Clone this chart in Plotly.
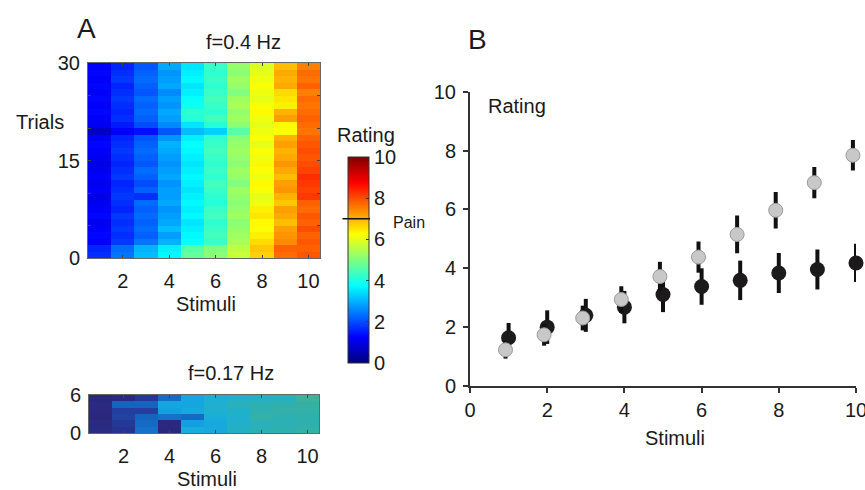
import plotly.graph_objects as go

W, H = 865, 490
FONT = "Liberation Sans, Arial, sans-serif"
TXT = "#1a1a1a"

STIMULI = list(range(1, 11))

# Single-trial ratings at f=0.4 Hz, listed from trial 30 (top) down to trial 1
RATINGS_04HZ = [
    [1.2, 1.6, 2.1, 2.9, 3.5, 4.3, 5.2, 5.9, 6.9, 7.5],
    [1.3, 1.7, 2.2, 2.7, 3.6, 4.2, 5.1, 6.0, 7.1, 7.7],
    [1.2, 1.8, 2.3, 2.8, 3.7, 4.3, 5.3, 6.1, 7.0, 7.6],
    [1.3, 1.6, 2.2, 2.9, 3.5, 4.2, 5.2, 6.2, 7.1, 7.8],
    [1.2, 1.7, 2.1, 2.6, 3.6, 4.3, 5.0, 6.1, 6.6, 7.5],
    [1.3, 1.8, 2.3, 2.8, 3.8, 4.4, 5.3, 6.0, 6.5, 7.7],
    [1.2, 1.7, 2.2, 2.7, 3.9, 4.3, 5.4, 6.2, 6.4, 7.6],
    [1.3, 1.6, 2.3, 2.9, 4.2, 4.2, 5.2, 6.3, 7.0, 7.7],
    [1.2, 1.7, 2.2, 2.8, 4.1, 4.4, 5.3, 6.1, 7.2, 7.8],
    [1.1, 1.5, 2.0, 2.6, 3.5, 4.1, 5.1, 6.0, 6.3, 7.7],
    [0.7, 1.2, 1.4, 2.1, 3.1, 3.3, 4.6, 6.1, 6.2, 7.6],
    [1.2, 1.6, 2.1, 2.7, 3.6, 4.2, 5.1, 6.2, 7.0, 7.8],
    [1.3, 1.7, 2.2, 3.0, 3.8, 4.3, 5.2, 6.0, 7.2, 7.9],
    [1.2, 1.8, 2.3, 2.9, 3.7, 4.4, 5.3, 6.2, 7.0, 8.0],
    [1.1, 1.7, 2.2, 2.8, 3.6, 4.3, 5.2, 6.1, 7.1, 7.9],
    [1.0, 1.6, 2.1, 2.7, 3.5, 4.2, 5.1, 6.3, 7.3, 8.0],
    [1.1, 1.7, 2.3, 2.8, 3.6, 4.3, 5.3, 6.2, 7.1, 8.1],
    [1.2, 1.8, 2.2, 2.9, 3.7, 4.2, 5.2, 6.1, 6.9, 8.3],
    [1.1, 1.6, 2.0, 2.7, 3.6, 4.4, 5.0, 6.3, 7.2, 8.2],
    [1.2, 1.7, 2.2, 2.8, 3.5, 4.3, 5.3, 6.2, 7.3, 8.1],
    [1.0, 1.8, 1.7, 2.8, 3.6, 4.2, 5.2, 6.0, 7.0, 8.2],
    [1.1, 1.7, 2.3, 2.9, 3.7, 4.1, 5.1, 6.1, 6.8, 7.8],
    [1.2, 1.6, 2.2, 2.7, 3.6, 4.3, 5.2, 6.4, 7.2, 7.7],
    [1.3, 1.8, 2.3, 2.8, 3.7, 4.4, 5.3, 6.5, 7.1, 7.9],
    [1.1, 1.7, 2.2, 2.9, 3.5, 4.2, 5.1, 6.3, 6.9, 7.8],
    [1.2, 1.8, 2.3, 3.1, 3.6, 4.3, 5.2, 6.2, 7.2, 8.0],
    [1.3, 1.7, 2.2, 2.8, 3.7, 4.4, 5.3, 6.4, 7.3, 7.8],
    [1.2, 1.8, 2.4, 3.0, 3.8, 4.3, 5.4, 6.6, 7.4, 7.9],
    [1.6, 2.3, 3.0, 3.6, 4.6, 5.0, 5.6, 6.8, 7.8, 7.8],
    [1.7, 2.4, 3.1, 3.7, 4.7, 5.1, 5.7, 6.7, 7.7, 7.9],
]

# Single-trial ratings at f=0.17 Hz, listed from trial 6 (top) down to trial 1
RATINGS_017HZ = [
    [1.0, 1.1, 1.8, 2.6, 3.4, 3.7, 3.8, 3.9, 4.0, 4.7],
    [1.2, 2.5, 2.5, 3.4, 3.4, 3.8, 4.1, 4.2, 4.3, 4.5],
    [1.1, 1.9, 1.9, 3.3, 3.5, 3.8, 3.9, 4.3, 4.4, 4.4],
    [1.0, 2.0, 2.5, 2.7, 2.6, 3.6, 3.8, 4.4, 4.2, 4.3],
    [1.2, 1.8, 2.6, 1.1, 3.3, 3.5, 3.9, 4.1, 4.2, 4.3],
    [1.3, 1.7, 2.7, 1.0, 3.6, 3.5, 4.0, 4.2, 4.3, 4.4],
]

# Mean rating and error per stimulus
MEAN_04HZ = [1.23, 1.74, 2.31, 2.94, 3.72, 4.38, 5.15, 5.97, 6.91, 7.84]
ERR_04HZ = [0.30, 0.37, 0.42, 0.45, 0.50, 0.53, 0.64, 0.62, 0.53, 0.52]
MEAN_017HZ = [1.64, 2.00, 2.40, 2.68, 3.11, 3.38, 3.59, 3.84, 3.96, 4.18]
ERR_017HZ = [0.50, 0.57, 0.56, 0.55, 0.60, 0.62, 0.67, 0.68, 0.68, 0.65]

PAIN_THRESHOLD = 7
RATING_MAX = 10

JET = [[0.0, "#000080"], [0.125, "#0000ff"], [0.375, "#00ffff"],
       [0.625, "#ffff00"], [0.875, "#ff0000"], [1.0, "#800000"]]
PARULA_LIKE = [[0.0, "#26206e"], [0.12, "#2a2a80"], [0.17, "#263490"],
               [0.21, "#1f48a8"], [0.25, "#1464c0"], [0.29, "#1680d0"],
               [0.33, "#14a0e0"], [0.36, "#18aedc"], [0.39, "#22b0c8"],
               [0.42, "#2cb0b4"], [0.46, "#3ab09c"], [0.52, "#4ab488"],
               [1.0, "#f9fb0e"]]


def fx(p):
    return p / W


def fy(p):
    return 1 - p / H


fig = go.Figure()

# colorbar geometry (pixels)
CB_TOP, CB_BOTTOM = 157, 363

fig.add_trace(go.Heatmap(
    z=RATINGS_04HZ[::-1], x=STIMULI, y0=0.5, dy=1,
    colorscale=JET, zmin=0, zmax=RATING_MAX, xaxis="x", yaxis="y",
    hoverinfo="skip",
    colorbar=dict(
        x=fx(348), xanchor="left", y=fy((CB_TOP + CB_BOTTOM) / 2), yanchor="middle",
        len=(CB_BOTTOM - CB_TOP) / H, lenmode="fraction",
        thickness=21, thicknessmode="pixels", xpad=0, ypad=0,
        outlinewidth=1, outlinecolor="#333",
        tickvals=list(range(0, 11, 2)), ticks="inside", ticklen=3,
        tickcolor="#333", tickfont=dict(family=FONT, size=20, color=TXT),
    ),
))

fig.add_trace(go.Heatmap(
    z=RATINGS_017HZ[::-1], x=STIMULI, y0=0.5, dy=1,
    colorscale=PARULA_LIKE, zmin=0, zmax=RATING_MAX, showscale=False,
    xaxis="x2", yaxis="y2", hoverinfo="skip",
))

fig.add_trace(go.Scatter(
    x=STIMULI, y=MEAN_017HZ, mode="markers", xaxis="x3", yaxis="y3",
    cliponaxis=False,
    marker=dict(size=15, color="#1c1a1a", line=dict(width=0)),
    error_y=dict(type="data", array=ERR_017HZ, color="#111", thickness=4, width=0),
    showlegend=False,
))
fig.add_trace(go.Scatter(
    x=[s - 0.08 for s in STIMULI], y=MEAN_04HZ, mode="markers", xaxis="x3", yaxis="y3",
    cliponaxis=False,
    marker=dict(size=14, color="#c8c8c8", line=dict(width=1, color="#9a9a9a")),
    error_y=dict(type="data", array=ERR_04HZ, color="#111", thickness=4, width=0),
    showlegend=False,
))

tickfont = dict(family=FONT, size=20, color=TXT)
heat_axis = dict(showline=True, linecolor="#666", linewidth=1, mirror="ticks",
                 ticks="inside", ticklen=3, tickcolor="#444", showgrid=False,
                 zeroline=False, tickfont=tickfont, fixedrange=True)
b_axis = dict(ticks="outside", ticklen=5, tickwidth=1.5, tickcolor="#333",
              showline=True, linecolor="#333", linewidth=2, showgrid=False,
              zeroline=False, tickfont=tickfont, ticklabeloverflow="allow")

fig.update_layout(
    width=W, height=H, margin=dict(l=0, r=0, t=0, b=0, autoexpand=False),
    paper_bgcolor="white", plot_bgcolor="white", showlegend=False,
    font=dict(family=FONT, color=TXT),
    xaxis=dict(domain=[fx(88), fx(320)], range=[0.5, 10.5], anchor="y",
               tickvals=[2, 4, 6, 8, 10], ticklabelstandoff=5, **heat_axis),
    yaxis=dict(domain=[fy(258), fy(63)], range=[0, 30], anchor="x",
               tickvals=[0, 5, 10, 15, 20, 25, 30], ticklabelstandoff=3,
               ticktext=["0", "", "", "15", "", "", "30"], **heat_axis),
    xaxis2=dict(domain=[fx(89), fx(319)], range=[0.5, 10.5], anchor="y2",
                tickvals=[2, 4, 6, 8, 10], ticklabelstandoff=5, **heat_axis),
    yaxis2=dict(domain=[fy(433), fy(395)], range=[0, 6], anchor="x2",
                tickvals=[0, 6], ticklabelstandoff=3, **heat_axis),
    xaxis3=dict(domain=[fx(470), fx(856)], range=[0, 10], anchor="y3",
                tickvals=[0, 2, 4, 6, 8, 10], ticklabelstandoff=0, **b_axis),
    yaxis3=dict(domain=[fy(386), fy(91.7)], range=[0, 10], anchor="x3",
                tickvals=[0, 2, 4, 6, 8, 10], ticklabelstandoff=3, **b_axis),
)


def label(text, x, y, size=20, xanchor="center"):
    fig.add_annotation(text=text, x=fx(x), y=fy(y), xref="paper", yref="paper",
                       showarrow=False, xanchor=xanchor, yanchor="middle",
                       font=dict(family=FONT, size=size, color=TXT))


label("A", 86, 28, size=28)
label("B", 477, 40, size=28)
label("f=0.4 Hz", 243, 42)
label("Trials", 40, 122)
label("Stimuli", 206, 304)
label("f=0.17 Hz", 231, 373)
label("Stimuli", 207, 479)
label("Rating", 366, 135)
label("Pain", 391, 222, size=16, xanchor="left")
label("Rating", 486, 106, xanchor="left")
label("Stimuli", 675, 438)

# pain threshold marker across the colorbar (annotation arrow sits above the bar)
pain_y = fy(CB_BOTTOM) + PAIN_THRESHOLD / RATING_MAX * (CB_BOTTOM - CB_TOP) / H
fig.add_annotation(text="", x=fx(370), y=pain_y, xref="paper", yref="paper",
                   ax=-29, ay=0, axref="pixel", ayref="pixel",
                   showarrow=True, arrowhead=0, arrowwidth=1.5, arrowcolor="#111",
                   standoff=0, startstandoff=0)

fig.write_html("out.html")
